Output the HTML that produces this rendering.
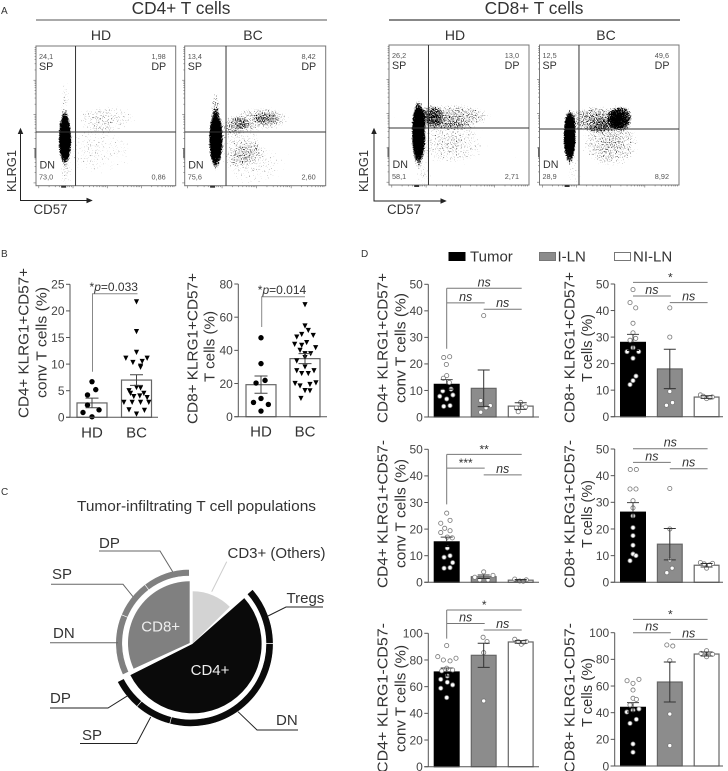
<!DOCTYPE html>
<html lang="en">
<head>
<meta charset="utf-8">
<title>T cell KLRG1 and CD57 figure</title>
<style>
html,body{margin:0;padding:0;background:#fff;}
svg{display:block;font-family:"Liberation Sans",sans-serif;}
text{fill:#333;}
</style>
</head>
<body>
<svg id="fig" width="728" height="771" viewBox="0 0 728 771" xmlns="http://www.w3.org/2000/svg">
<defs>
<filter id="stipple" x="-10%" y="-10%" width="120%" height="120%" color-interpolation-filters="sRGB">
<feTurbulence type="fractalNoise" baseFrequency="0.85" numOctaves="1" seed="7" result="n"/>
<feColorMatrix in="n" type="matrix" values="0 0 0 0 0 0 0 0 0 0 0 0 0 0 0 1 0 0 0 0" result="na"/>
<feComposite in="SourceAlpha" in2="na" operator="arithmetic" k1="0" k2="4" k3="4" k4="-3.3"/>
</filter>
<radialGradient id="blob"><stop offset="0" stop-color="#000" stop-opacity="1"/><stop offset="0.65" stop-color="#000" stop-opacity="0.75"/><stop offset="1" stop-color="#000" stop-opacity="0"/></radialGradient>
</defs>
<rect width="728" height="771" fill="#fff"/>

<g font-size="10" fill="#333">
<text x="1" y="14">A</text>
<text x="1" y="257">B</text>
<text x="1" y="495">C</text>
<text x="361" y="257">D</text>
</g>

<g text-anchor="middle">
<text x="181" y="14" font-size="17.3">CD4+ T cells</text>
<line x1="36" y1="20" x2="327" y2="20" stroke="#555" stroke-width="1"/>
<text x="534" y="14" font-size="17.3">CD8+ T cells</text>
<line x1="389" y1="20" x2="680" y2="20" stroke="#111" stroke-width="1"/>
<text x="101" y="40" font-size="14">HD</text>
<text x="253" y="40" font-size="14">BC</text>
<text x="455" y="40" font-size="14">HD</text>
<text x="606" y="40" font-size="14">BC</text>
</g>

<g stroke="#222" fill="none" stroke-width="1">
<path d="M20.5 133V200.5H88"/>
<path d="M20.5 129l-2 4.5h4zM91.5 200.5l-4.5-2v4z" fill="#222"/>
<path d="M374 133V201H442"/>
<path d="M374 129l-2 4.5h4zM445.5 201l-4.5-2v4z" fill="#222"/>
</g>
<text transform="translate(16,171) rotate(-90)" text-anchor="middle" font-size="13" textLength="42" lengthAdjust="spacingAndGlyphs">KLRG1</text>
<text x="33.5" y="214" font-size="13.5" textLength="34" lengthAdjust="spacingAndGlyphs">CD57</text>
<text transform="translate(368,171) rotate(-90)" text-anchor="middle" font-size="13" textLength="42" lengthAdjust="spacingAndGlyphs">KLRG1</text>
<text x="387" y="214" font-size="13.5" textLength="34" lengthAdjust="spacingAndGlyphs">CD57</text>

<g id="flow"></g>
<g id="charts"></g>
<g id="pie"></g>

<g font-size="15" text-anchor="middle">
<text transform="translate(28.5,343) rotate(-90)" textLength="150" lengthAdjust="spacingAndGlyphs">CD4+ KLRG1+CD57+</text>
<text transform="translate(46.5,342.5) rotate(-90)" textLength="111" lengthAdjust="spacingAndGlyphs">conv T cells (%)</text>
<text transform="translate(197.5,348.5) rotate(-90)" textLength="151" lengthAdjust="spacingAndGlyphs">CD8+ KLRG1+CD57+</text>
<text transform="translate(214.5,346.5) rotate(-90)" textLength="71" lengthAdjust="spacingAndGlyphs">T cells (%)</text>
<text transform="translate(387.5,348) rotate(-90)" textLength="150" lengthAdjust="spacingAndGlyphs">CD4+ KLRG1+CD57+</text>
<text transform="translate(405.5,348) rotate(-90)" textLength="110" lengthAdjust="spacingAndGlyphs">conv T cells (%)</text>
<text transform="translate(574.5,347.5) rotate(-90)" textLength="151" lengthAdjust="spacingAndGlyphs">CD8+ KLRG1+CD57+</text>
<text transform="translate(592,348) rotate(-90)" textLength="68" lengthAdjust="spacingAndGlyphs">T cells (%)</text>
<text transform="translate(387.5,514) rotate(-90)" textLength="148" lengthAdjust="spacingAndGlyphs">CD4+ KLRG1+CD57-</text>
<text transform="translate(405.5,513.5) rotate(-90)" textLength="109" lengthAdjust="spacingAndGlyphs">conv T cells (%)</text>
<text transform="translate(574.5,514) rotate(-90)" textLength="148" lengthAdjust="spacingAndGlyphs">CD8+ KLRG1+CD57-</text>
<text transform="translate(592,514) rotate(-90)" textLength="68" lengthAdjust="spacingAndGlyphs">T cells (%)</text>
<text transform="translate(387.5,698) rotate(-90)" textLength="150" lengthAdjust="spacingAndGlyphs">CD4+ KLRG1-CD57-</text>
<text transform="translate(405.5,698.5) rotate(-90)" textLength="107" lengthAdjust="spacingAndGlyphs">conv T cells (%)</text>
<text transform="translate(574.5,698) rotate(-90)" textLength="150" lengthAdjust="spacingAndGlyphs">CD8+ KLRG1-CD57-</text>
<text transform="translate(592,692.5) rotate(-90)" textLength="69" lengthAdjust="spacingAndGlyphs">T cells (%)</text>
</g>

<g font-size="15">
<g>
<rect x="449" y="252.5" width="16" height="8" fill="#000" stroke="#000"/>
<text x="470" y="261.5">Tumor</text>
</g>
<g>
<rect x="539.5" y="252.5" width="16" height="8" fill="#8c8c8c" stroke="#777"/>
<text x="557.5" y="261.5">I-LN</text>
</g>
<g>
<rect x="614.5" y="252.5" width="16" height="8" fill="#fff" stroke="#777"/>
<text x="633" y="261.5">NI-LN</text>
</g>
</g>

<text x="196.5" y="511" font-size="15" text-anchor="middle" textLength="239" lengthAdjust="spacingAndGlyphs">Tumor-infiltrating T cell populations</text>

<script>
// ---- Flow cytometry populations, in percent of the plot axes ----
const cd4HdBlobs = [[20.7,34,4.2,17,1],[20.7,60,3,14,0.24],[50,48,20,9,0.27],[43,25,26,16,0.21],[21,8,5,7,0.22]];
const cd4BcBlobs = [[22,33,4.5,19,1],[54,48,19,8,0.33],[58,48,9,4.5,0.2],[39,30,15,15,0.25],[34,44,10,6,0.26],[22,57,3,9,0.35],[50,15,20,14,0.22]];
const cd8HdBlobs = [[21,37,4.5,21,1],[46,49,25,8,0.37],[30,49,8,8,0.36],[44,30,23,15,0.28],[25,8,6,8,0.22]];
const cd8BcBlobs = [[21.6,34.5,4.2,17,1],[58,48,8,8,0.7],[40,47,19,8.5,0.42],[51,30,19,16,0.34],[25,10,5,9,0.2]];
const flowSp = ['24,1','13,4','26,2','12,5'];
const flowDp = ['1,98','8,42','13,0','49,6'];
const flowDn = ['73,0','75,6','58,1','28,9'];
const flowN4 = ['0,86','2,60','2,71','8,92'];

// ---- Panel B ----
const bCategories = ['HD','BC'];
const bTicksCd4 = [0,5,10,15,20,25];
const bTicksCd8 = [0,20,40,60,80];
const bMeansCd4 = [2.7,7.0];
const bErrorsCd4 = [0.9,1.0];
const bMeansCd8 = [19.3,35];
const bErrorsCd8 = [5.2,3];
const bCd4Hd = [6.7,5.2,4.2,2.3,1.4,0.9,0.1];
const bCd4HdJitter = [0,0.25,-0.3,-0.3,0.47,-0.6,0];
const bCd4Bc = [21.7,16.1,12.2,11.1,11.1,10.3,10.5,9.6,9.4,5.6,5.5,5.0,4.5,4.5,3.9,4.0,3.7,2.8,2.8,2.8,2.8,1.4,1.3,0.6];
const bCd4BcJitter = [0,0,0,-0.71,0.71,-0.24,0.38,0.27,0.27,0,0.27,-0.5,-0.4,0.49,-0.18,0.22,0.71,-0.84,-0.29,0.27,0.82,-0.5,0.53,0];
const bCd8Hd = [47.6,32,20.3,21.9,8.6,11,7.4,3.4];
const bCd8HdJitter = [0,0,-0.33,0.27,-0.5,0,0.49,0];
const bCd8Bc = [67.5,54.7,52,49,49.6,48,44.7,43.6,43,41.6,40,38,38,33.6,35.6,27.7,30,27.7,26,26,20,20.4,19.4,18.5,15.7,15.6,11];
const bCd8BcJitter = [0,0,0.22,0.55,-0.22,-0.55,0.11,-0.69,-0.22,0.71,-0.33,0,0.38,-0.55,0,-0.55,0,0.6,0.22,-0.22,-0.66,0.73,0.33,-0.33,0,0.33,-0.27];

// ---- Panel D ----
const dGroups = ['Tumor','I-LN','NI-LN'];
const dTicks50 = [0,10,20,30,40,50];
const dTicks100 = [0,20,40,60,80,100];

const d1Means = [12.3,10.8,4.1];
const d1Errors = [1.8,6.9,1.25];
const d1Tumor = [22.4,22.7,19.8,15.6,14.6,13,10.5,9.8,7.8,8.3,6.8,4,4.3];
const d1TumorJitter = [-0.24,0.24,-0.03,0,-0.27,0.21,0.35,-0.32,-0.56,0.5,0,-0.24,0.27];
const d1ILn = [38.2,6.2,4.3,3.5,1.8];
const d1ILnJitter = [0,-0.24,0.53,0.19,-0.24];
const d1NiLn = [5.5,3.8,3.4,2];
const d1NiLnJitter = [0,0.4,-0.35,-0.2];

const d2Means = [28,18,7.4];
const d2Errors = [3,7.4,0.5];
const d2Tumor = [47.9,43,41,35.2,31.6,29.5,28.8,26,24.5,24.5,22,15.3,13.6,12.1];
const d2TumorJitter = [0,-0.24,0.22,0,0,0.22,-0.24,0,-0.48,0.46,0,0.24,0,-0.24];
const d2ILn = [41,30,9.5,5.3,4.3];
const d2ILnJitter = [0,0,0,0.22,-0.27];
const d2NiLn = [8.2,6.8,7.4,7.7,7.2];
const d2NiLnJitter = [-0.5,0,0.46,-0.27,0.27];

const d3Means = [15.2,2.1,0.8];
const d3Errors = [1.8,0.65,0.25];
const d3Tumor = [26,22.2,23.3,20.3,18.7,19.4,17,16.7,12.9,10,9.4,7.4,5.5,5.3];
const d3TumorJitter = [0,-0.48,0.27,-0.16,-0.48,0.27,0.05,0.45,0.05,0.27,-0.21,0.48,0.27,-0.21];
const d3ILn = [3.9,1.9,2.6,0.9,0.9];
const d3ILnJitter = [0,-0.72,0.75,-0.32,0.35];
const d3NiLn = [1.2,0.9,0.5,0.4];
const d3NiLnJitter = [-0.48,0.45,-0.08,0.2];

const d4Means = [26.3,14.3,6.4];
const d4Errors = [3.6,5.9,0.65];
const d4Tumor = [42.3,42.3,35,35,30.6,27.9,24.9,20.5,17.5,13.9,10.6,10,8.1];
const d4TumorJitter = [-0.22,0.27,-0.24,0.24,0,0,0,0,0,0,0,0.24,-0.24];
const d4ILn = [35.2,20,8.4,5.3,3.6];
const d4ILnJitter = [0,0,0,0.19,-0.24];
const d4NiLn = [7.4,7.1,5.3,6.9,6.5];
const d4NiLnJitter = [-0.5,0.48,0,-0.19,0.24];

const d5Means = [71,83.5,93.5];
const d5Errors = [3,9,1];
const d5Tumor = [90.8,82.5,81.3,80,79.3,73.8,71.8,72.5,68,65.5,63.3,61.3,58.8,51.8];
const d5TumorJitter = [0,-0.72,0.75,-0.27,0.27,0,-0.4,0.48,0.05,-0.48,0.05,0.48,-0.48,0];
const d5ILn = [97,93.8,85.5,49.3];
const d5ILnJitter = [-0.05,0.27,0,0];
const d5NiLn = [95.5,93.8,91.8,93.8,93.3];
const d5NiLnJitter = [-0.48,0.45,0.05,-0.2,0.24];

const d6Means = [44,63,84];
const d6Errors = [3.5,15,1.5];
const d6Tumor = [64,65,62,57,50.8,50,45.8,42.8,40.5,41.8,35,32,16.5,10.3];
const d6TumorJitter = [-0.48,0.48,0,0,0,0.27,-0.24,0.48,-0.5,0,0.27,-0.24,0,0];
const d6ILn = [90.8,90,79,39,15.3];
const d6ILnJitter = [-0.24,0.24,0,0,0];
const d6NiLn = [86.5,84.5,83.8,82];
const d6NiLnJitter = [0,-0.45,0.48,0];

// ---- Panel C ----
const pieNames = ['CD4+','CD8+','CD3+ (Others)'];
const pieValues = [54.1,32.4,13.5];
const cd4RingNames = ['Tregs','DN','SP','DP'];
const cd4RingValues = [11.4,29.2,7.2,6.1];
const cd8RingNames = ['DN','SP','DP'];
const cd8RingValues = [13.3,8.3,10.3];

const NS = 'http://www.w3.org/2000/svg';
function shape(tag, attrs, name, parent, content) {
  const el = document.createElementNS(NS, tag);
  for (const k in attrs) el.setAttribute(k, attrs[k]);
  
  
  if (content !== undefined) el.textContent = content;
  parent.appendChild(el);
  return el;
}

// ---- Flow panels ----
function drawFlow(idx, name, left, top, w, h, qx, qy, blobs) {
  const root = document.getElementById('flow');
  const g = shape('g', {}, name, root);
  const sx = v => left + v / 100 * w;
  const sy = v => top + h - v / 100 * h;
  const clipId = 'clip-' + name;
  const defs = shape('clipPath', {id: clipId}, name + '-clip', g);
  shape('rect', {x: left, y: top, width: w, height: h}, name + '-clip-rect', defs);
  const clipG = shape('g', {'clip-path': 'url(#' + clipId + ')'}, name + '-clip-group', g);
  const cloud = shape('g', {filter: 'url(#stipple)'}, name + '-events', clipG);
  shape('rect', {x: left, y: top, width: w, height: h, fill: '#000', 'fill-opacity': 0}, name + '-event-area', cloud);
  blobs.forEach(function (b, i) {
    shape('ellipse', {cx: sx(b[0]), cy: sy(b[1]), rx: b[2] / 100 * w * 1.25, ry: b[3] / 100 * h * 1.25, fill: 'url(#blob)', opacity: b[4]}, name + '-population-' + i, cloud);
  });
  shape('rect', {x: left, y: top, width: w, height: h, fill: 'none', stroke: '#777', 'stroke-width': 1}, name + '-frame', g);
  shape('line', {x1: sx(qx), y1: top, x2: sx(qx), y2: top + h, stroke: '#333', 'stroke-width': 1}, name + '-vertical-gate', g);
  shape('line', {x1: left, y1: sy(qy), x2: left + w, y2: sy(qy), stroke: '#333', 'stroke-width': 1}, name + '-horizontal-gate', g);
  // log-style ticks on both axes
  const tg = shape('g', {stroke: '#666', 'stroke-width': 0.6}, name + '-ticks', g);
  for (let d = 0; d < 4; d++) {
    [0,30,48,60,70,78,85,90,95].forEach(function (m, j) {
      const f = (d + m / 100) * 24.5 + 2;
      const len = j === 0 ? 2.5 : 1.4;
      shape('line', {x1: sx(f), y1: top + h, x2: sx(f), y2: top + h + len}, name + '-x-tick', tg);
      shape('line', {x1: left, y1: sy(f), x2: left - len, y2: sy(f)}, name + '-y-tick', tg);
    });
  }
  shape('rect', {x: sx(18), y: top + h, width: 5, height: 2, fill: '#333'}, name + '-x-tick-cluster', g);
  shape('rect', {x: left - 1.5, y: sy(27), width: 1.5, height: 10, fill: '#666'}, name + '-y-tick-cluster', g);
  const small = {'font-size': 7.3, style: 'fill:#555'};
  const big = {'font-size': 10.7};
  shape('text', Object.assign({x: left + 3, y: top + 13}, small), name + '-sp-value', g, flowSp[idx]);
  shape('text', Object.assign({x: left + 3, y: top + 24}, big), name + '-sp-label', g, 'SP');
  shape('text', Object.assign({x: left + w - 10, y: top + 13, 'text-anchor': 'end'}, small), name + '-dp-value', g, flowDp[idx]);
  shape('text', Object.assign({x: left + w - 9.5, y: top + 24, 'text-anchor': 'end'}, big), name + '-dp-label', g, 'DP');
  shape('text', Object.assign({x: left + 3.5, y: top + h - 17}, big), name + '-dn-label', g, 'DN');
  shape('text', Object.assign({x: left + 3, y: top + h - 6}, small), name + '-dn-value', g, flowDn[idx]);
  shape('text', Object.assign({x: left + w - 10, y: top + h - 6, 'text-anchor': 'end'}, small), name + '-neg-value', g, flowN4[idx]);
}
drawFlow(0, 'flow-cd4-hd', 36, 46, 139.7, 139.7, 28.3, 38.4, cd4HdBlobs);
drawFlow(1, 'flow-cd4-bc', 184.7, 46, 141, 139.7, 29.3, 38.4, cd4BcBlobs);
drawFlow(2, 'flow-cd8-hd', 389, 45, 140, 140, 28.2, 40.7, cd8HdBlobs);
drawFlow(3, 'flow-cd8-bc', 539.5, 45, 139.5, 140, 28.3, 40, cd8BcBlobs);

// ---- Dot + bar charts ----
function drawChart(c) {
  const root = document.getElementById('charts');
  const g = shape('g', {}, c.name, root);
  const y = v => c.y0 - v / c.max * (c.y0 - c.yTop);
  const x = i => c.first + i * c.step;
  const half = c.half;
  // bars
  c.means.forEach(function (m, i) {
    const st = c.styles[i];
    shape('rect', {x: x(i) - half, y: y(m), width: half * 2, height: c.y0 - y(m), fill: st.fill, stroke: st.stroke, 'stroke-width': 1.2}, c.name + '-bar-' + c.cats[i], g);
  });
  // points
  c.values.forEach(function (vals, i) {
    const st = c.styles[i];
    vals.forEach(function (v, j) {
      const px = x(i) + c.jitter[i][j] * half;
      const py = y(v);
      if (st.marker === 'tri') {
        const s = 2.6;
        shape('path', {d: 'M' + (px - s) + ' ' + (py - s) + 'h' + (s * 2) + 'l' + (-s) + ' ' + (s * 2) + 'z', fill: '#000'}, c.name + '-point-' + c.cats[i], g);
      } else if (st.marker === 'dot') {
        shape('circle', {cx: px, cy: py, r: 2.7, fill: '#000'}, c.name + '-point-' + c.cats[i], g);
      } else {
        shape('circle', {cx: px, cy: py, r: 2.1, fill: '#fff', stroke: '#777', 'stroke-width': 0.8}, c.name + '-point-' + c.cats[i], g);
      }
    });
  });
  // error bars
  c.means.forEach(function (m, i) {
    const e = c.errors[i];
    const col = c.styles[i].err;
    const cap = c.cap;
    shape('path', {d: 'M' + x(i) + ' ' + y(m + e) + 'V' + y(m) + 'M' + (x(i) - cap) + ' ' + y(m + e) + 'H' + (x(i) + cap), fill: 'none', stroke: col, 'stroke-width': 1}, c.name + '-error-upper-' + c.cats[i], g);
    shape('path', {d: 'M' + x(i) + ' ' + y(m) + 'V' + y(m - e) + 'M' + (x(i) - cap) + ' ' + y(m - e) + 'H' + (x(i) + cap), fill: 'none', stroke: c.styles[i].errLow || col, 'stroke-width': 1}, c.name + '-error-lower-' + c.cats[i], g);
  });
  // axes
  shape('line', {x1: c.axisX, y1: c.yTop, x2: c.axisX, y2: c.y0, stroke: '#555', 'stroke-width': 1}, c.name + '-y-axis', g);
  shape('line', {x1: c.axisX - 4, y1: c.y0, x2: c.xEnd, y2: c.y0, stroke: '#555', 'stroke-width': 1}, c.name + '-x-axis', g);
  c.ticks.forEach(function (t) {
    shape('line', {x1: c.axisX - 4, y1: y(t), x2: c.axisX, y2: y(t), stroke: '#555', 'stroke-width': 1}, c.name + '-y-tick', g);
    shape('text', {x: c.axisX - 5.5, y: y(t) + 4.3, 'text-anchor': 'end', 'font-size': 12, style: 'fill:#444'}, c.name + '-y-tick-label', g, t);
  });
  if (c.showCats) {
    c.cats.forEach(function (n, i) {
      shape('text', {x: x(i), y: c.y0 + 20, 'text-anchor': 'middle', 'font-size': 15}, c.name + '-x-label-' + n, g, n);
    });
  }
  // significance brackets
  (c.brackets || []).forEach(function (b, k) {
    const xa = x(b[0]) + (b[5] || 0);
    const xb = x(b[1]) + 1;
    const yy = y(b[2]);
    let d = 'M' + xa + ' ' + yy + 'H' + xb;
    if (b[4] !== null && b[4] !== undefined) d += 'M' + xa + ' ' + yy + 'V' + y(b[4]);
    shape('path', {d: d, fill: 'none', stroke: '#777', 'stroke-width': 1}, c.name + '-bracket-' + k, g);
    const isNs = b[3] === 'ns';
    shape('text', {x: (xa + xb) / 2, y: yy - (isNs ? 2 : 1), 'text-anchor': 'middle', 'font-size': isNs ? 12.5 : 12, 'font-style': isNs ? 'italic' : 'normal'}, c.name + '-significance-' + k, g, b[3]);
  });
}
const dStyles = [
  {fill: '#000', stroke: '#000', err: '#444', errLow: '#000'},
  {fill: '#8c8c8c', stroke: '#666', err: '#333'},
  {fill: '#fff', stroke: '#666', err: '#333'}
];
const bWhiteDot = {fill: '#fff', stroke: '#666', err: '#444', marker: 'dot'};
const bWhiteTri = {fill: '#fff', stroke: '#666', err: '#444', marker: 'tri'};

function pLabel(x1, x2, yy, xDrop, yDrop, before, after, name) {
  const root = document.getElementById('charts');
  shape('path', {d: 'M' + xDrop + ' ' + yDrop + 'V' + yy + 'H' + x2, fill: 'none', stroke: '#888', 'stroke-width': 1}, name + '-bracket', root);
  const t = shape('text', {x: (x1 + x2) / 2, y: yy - 2.5, 'text-anchor': 'middle', 'font-size': 12}, name + '-p-value', root);
  shape('tspan', {}, name + '-p-star', t, '*');
  shape('tspan', {'font-style': 'italic'}, name + '-p-symbol', t, 'p');
  shape('tspan', {}, name + '-p-number', t, '=' + after);
}

drawChart({name:'b-cd4-chart', cats:bCategories, showCats:true, axisX:70, xEnd:158, y0:417.3, yTop:284.3, max:25, first:92, step:44.5, half:15, cap:6.5,
  ticks:bTicksCd4, means:bMeansCd4, errors:bErrorsCd4, values:[bCd4Hd,bCd4Bc], jitter:[bCd4HdJitter,bCd4BcJitter], styles:[bWhiteDot,bWhiteTri]});
drawChart({name:'b-cd8-chart', cats:bCategories, showCats:true, axisX:238.3, xEnd:327, y0:416.7, yTop:284, max:80, first:261, step:44, half:15, cap:6.5,
  ticks:bTicksCd8, means:bMeansCd8, errors:bErrorsCd8, values:[bCd8Hd,bCd8Bc], jitter:[bCd8HdJitter,bCd8BcJitter], styles:[bWhiteDot,bWhiteTri]});
pLabel(90, 137.5, 293.7, 92.5, 371.7, '*', '0.033', 'b-cd4');
pLabel(259, 305, 296.7, 261.7, 327, '*', '0.014', 'b-cd8');

const dLeft = {axisX:428.3, xEnd:539, first:446.7, step:37, half:12.4, cap:6, cats:dGroups, styles:dStyles};
const dRight = {axisX:614.7, xEnd:723, first:633, step:36.8, half:12.4, cap:6, cats:dGroups, styles:dStyles};
drawChart(Object.assign({name:'d1-chart', y0:417, yTop:284.3, max:50, ticks:dTicks50, means:d1Means, errors:d1Errors,
  values:[d1Tumor,d1ILn,d1NiLn], jitter:[d1TumorJitter,d1ILnJitter,d1NiLnJitter],
  brackets:[[0,2,48.5,'ns',25.7],[0,1,43,'ns'],[1,2,40.6,'ns']]}, dLeft));
drawChart(Object.assign({name:'d2-chart', y0:416.7, yTop:284, max:50, ticks:dTicks50, means:d2Means, errors:d2Errors,
  values:[d2Tumor,d2ILn,d2NiLn], jitter:[d2TumorJitter,d2ILnJitter,d2NiLnJitter],
  brackets:[[0,2,50.6,'*'],[0,1,45.5,'ns'],[1,2,43,'ns']]}, dRight));
drawChart(Object.assign({name:'d3-chart', y0:582.3, yTop:449.3, max:50, ticks:dTicks50, means:d3Means, errors:d3Errors,
  values:[d3Tumor,d3ILn,d3NiLn], jitter:[d3TumorJitter,d3ILnJitter,d3NiLnJitter],
  brackets:[[0,2,48.1,'**',29.3],[0,1,42.9,'***'],[1,2,40.4,'ns']]}, dLeft));
drawChart(Object.assign({name:'d4-chart', y0:582.3, yTop:449, max:50, ticks:dTicks50, means:d4Means, errors:d4Errors,
  values:[d4Tumor,d4ILn,d4NiLn], jitter:[d4TumorJitter,d4ILnJitter,d4NiLnJitter],
  brackets:[[0,2,50.1,'ns'],[0,1,45,'ns'],[1,2,42.6,'ns']]}, dRight));
drawChart(Object.assign({name:'d5-chart', y0:766.7, yTop:633.3, max:100, ticks:dTicks100, means:d5Means, errors:d5Errors,
  values:[d5Tumor,d5ILn,d5NiLn], jitter:[d5TumorJitter,d5ILnJitter,d5NiLnJitter],
  brackets:[[0,2,117.5,'*',96],[0,1,107.3,'ns'],[1,2,102.5,'ns']]}, dLeft));
drawChart(Object.assign({name:'d6-chart', y0:766, yTop:632.7, max:100, ticks:dTicks100, means:d6Means, errors:d6Errors,
  values:[d6Tumor,d6ILn,d6NiLn], jitter:[d6TumorJitter,d6ILnJitter,d6NiLnJitter],
  brackets:[[0,2,110,'*'],[0,1,100,'ns'],[1,2,95,'ns']]}, dRight));

// ---- Pie ----
(function () {
  const root = document.getElementById('pie');
  const pol = (cx, cy, r, deg) => {
    const a = (deg - 90) * Math.PI / 180;
    return [cx + r * Math.cos(a), cy + r * Math.sin(a)];
  };
  const sector = (cx, cy, r, a0, a1) => {
    const s = pol(cx, cy, r, a0), e = pol(cx, cy, r, a1);
    return 'M' + cx + ' ' + cy + 'L' + s[0] + ' ' + s[1] + 'A' + r + ' ' + r + ' 0 ' + (a1 - a0 > 180 ? 1 : 0) + ' 1 ' + e[0] + ' ' + e[1] + 'Z';
  };
  const ringSeg = (cx, cy, r0, r1, a0, a1) => {
    const s = pol(cx, cy, r1, a0), e = pol(cx, cy, r1, a1), s2 = pol(cx, cy, r0, a1), e2 = pol(cx, cy, r0, a0);
    const large = a1 - a0 > 180 ? 1 : 0;
    return 'M' + s[0] + ' ' + s[1] + 'A' + r1 + ' ' + r1 + ' 0 ' + large + ' 1 ' + e[0] + ' ' + e[1] + 'L' + s2[0] + ' ' + s2[1] + 'A' + r0 + ' ' + r0 + ' 0 ' + large + ' 0 ' + e2[0] + ' ' + e2[1] + 'Z';
  };
  const start = 48.6;
  const deg = v => v * 3.6;
  const cd4End = start + deg(pieValues[0]);
  const cd8End = cd4End + deg(pieValues[1]);
  const cd3End = cd8End + deg(pieValues[2]);

  shape('path', {d: sector(192.3, 644, 69.3, start, cd4End), fill: '#0a0a0a'}, 'pie-slice-cd4', root);
  shape('path', {d: sector(189.7, 643, 61.7, cd4End + 2, cd8End), fill: '#808080'}, 'pie-slice-cd8', root);
  shape('path', {d: sector(192.7, 643.3, 52, cd8End, cd3End - 3), fill: '#d3d3d3'}, 'pie-slice-cd3-others', root);

  let a = start;
  cd4RingValues.forEach(function (v, i) {
    shape('path', {d: ringSeg(190.7, 644, 75.3, 82.5, a, a + deg(v)), fill: '#0a0a0a', stroke: '#fff', 'stroke-width': 0.6}, 'cd4-ring-' + cd4RingNames[i], root);
    a += deg(v);
  });
  let b = cd4End + 1.5;
  cd8RingValues.forEach(function (v, i) {
    shape('path', {d: ringSeg(189.7, 643.3, 67.3, 74, b, b + deg(v)), fill: '#808080', stroke: '#fff', 'stroke-width': 0.6}, 'cd8-ring-' + cd8RingNames[i], root);
    b += deg(v);
  });

  const leaders = [
    ['DP',99,548,'M99 551H160L172.7 571.7','#666','cd8-dp'],
    ['SP',52,579,'M51 584.3H123L133 596.7','#666','cd8-sp'],
    ['DN',53,638,'M50 642.7H118','#666','cd8-dn'],
    ['DP',50,703,'M50 708H108L127.7 695.7','#222','cd4-dp'],
    ['SP',82,740,'M80 743.5H136.7L150.7 717','#222','cd4-sp'],
    ['DN',276,725,'M298 730H257L238 711.7','#222','cd4-dn'],
    ['Tregs',286.5,603,'M323 607H286L268 616','#222','cd4-tregs'],
    ['CD3+ (Others)',227.5,558,'M226.7 561.7L211.7 591.7','#ccc','cd3-others']
  ];
  leaders.forEach(function (l) {
    shape('path', {d: l[3], fill: 'none', stroke: l[4], 'stroke-width': 1}, l[5] + '-leader', root);
    shape('text', {x: l[1], y: l[2], 'font-size': 15}, l[5] + '-label', root, l[0]);
  });
  shape('text', {x: 160.7, y: 631.5, 'text-anchor': 'middle', 'font-size': 15, style: 'fill:#eee'}, 'pie-label-cd8', root, pieNames[1]);
  shape('text', {x: 210, y: 675, 'text-anchor': 'middle', 'font-size': 15, style: 'fill:#eee'}, 'pie-label-cd4', root, pieNames[0]);
})();
</script>
</svg>
</body>
</html>
